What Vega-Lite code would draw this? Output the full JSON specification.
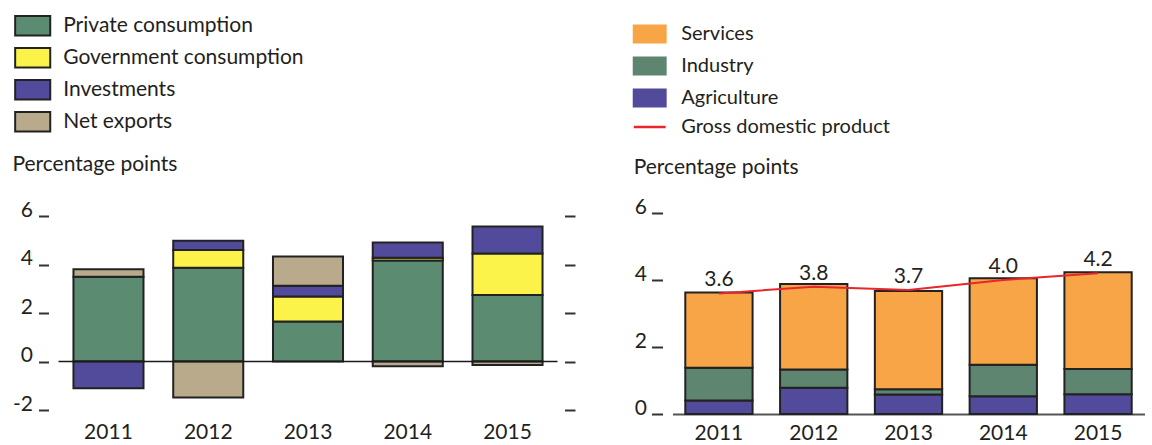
{
  "$schema": "https://vega.github.io/schema/vega-lite/v6.json",
  "background": "white",
  "padding": {"left": 11.5, "top": 14, "right": 0, "bottom": 0},
  "bounds": "flush",
  "spacing": 115,
  "config": {"view": {"stroke": null}, "font": "Lato"},
  "datasets": {
    "demand": [
      {"year": "2011", "component": "Private consumption", "value": 3.50},
      {"year": "2011", "component": "Investments", "value": -1.10},
      {"year": "2011", "component": "Net exports", "value": 0.30},
      {"year": "2012", "component": "Private consumption", "value": 3.87},
      {"year": "2012", "component": "Government consumption", "value": 0.73},
      {"year": "2012", "component": "Investments", "value": 0.38},
      {"year": "2012", "component": "Net exports", "value": -1.48},
      {"year": "2013", "component": "Private consumption", "value": 1.65},
      {"year": "2013", "component": "Government consumption", "value": 1.03},
      {"year": "2013", "component": "Investments", "value": 0.44},
      {"year": "2013", "component": "Net exports", "value": 1.21},
      {"year": "2014", "component": "Private consumption", "value": 4.17},
      {"year": "2014", "component": "Government consumption", "value": 0.11},
      {"year": "2014", "component": "Investments", "value": 0.63},
      {"year": "2014", "component": "Net exports", "value": -0.20},
      {"year": "2015", "component": "Private consumption", "value": 2.74},
      {"year": "2015", "component": "Government consumption", "value": 1.71},
      {"year": "2015", "component": "Investments", "value": 1.12},
      {"year": "2015", "component": "Net exports", "value": -0.14}
    ],
    "supply": [
      {"year": "2011", "sector": "Agriculture", "value": 0.40},
      {"year": "2011", "sector": "Industry", "value": 0.98},
      {"year": "2011", "sector": "Services", "value": 2.25},
      {"year": "2012", "sector": "Agriculture", "value": 0.78},
      {"year": "2012", "sector": "Industry", "value": 0.55},
      {"year": "2012", "sector": "Services", "value": 2.55},
      {"year": "2013", "sector": "Agriculture", "value": 0.58},
      {"year": "2013", "sector": "Industry", "value": 0.16},
      {"year": "2013", "sector": "Services", "value": 2.93},
      {"year": "2014", "sector": "Agriculture", "value": 0.53},
      {"year": "2014", "sector": "Industry", "value": 0.94},
      {"year": "2014", "sector": "Services", "value": 2.58},
      {"year": "2015", "sector": "Agriculture", "value": 0.59},
      {"year": "2015", "sector": "Industry", "value": 0.75},
      {"year": "2015", "sector": "Services", "value": 2.89}
    ],
    "gdp": [
      {"year": "2011", "gdp": 3.6},
      {"year": "2012", "gdp": 3.8},
      {"year": "2013", "gdp": 3.7},
      {"year": "2014", "gdp": 4.0},
      {"year": "2015", "gdp": 4.2}
    ]
  },
  "hconcat": [
    {
      "width": 499,
      "height": 197,
      "layer": [
        {
          "data": {"name": "demand"},
          "transform": [
            {"calculate": "indexof(['Private consumption','Government consumption','Investments','Net exports'], datum.component)", "as": "rank"}
          ],
          "mark": {"type": "bar", "stroke": "#222222", "strokeWidth": 2},
          "encoding": {
            "x": {
              "field": "year", "type": "nominal",
              "scale": {"paddingInner": 0.298, "paddingOuter": 0.15},
              "axis": {"title": null, "labelAngle": 0, "ticks": false, "domain": false, "labelFontSize": 21, "labelPadding": 11, "labelColor": "#231f20"}
            },
            "y": {
              "field": "value", "type": "quantitative", "stack": "zero",
              "scale": {"domain": [-2, 6.125], "nice": false, "zero": false},
              "axis": {
                "orient": "left", "values": [-2, 0, 2, 4, 6], "grid": false, "domain": false,
                "offset": 10, "tickSize": 10, "tickWidth": 2, "tickColor": "#333",
                "labelExpr": "replace(datum.label, '\u2212', '-')",
                "labelFontSize": 21, "labelPadding": 6, "labelBaseline": "alphabetic", "labelColor": "#231f20",
                "title": "Percentage points", "titleAngle": 0, "titleAlign": "left", "titleBaseline": "middle",
                "titleX": -36.6, "titleY": -49, "titleFontSize": 21, "titleFontWeight": "normal", "titleColor": "#231f20"
              }
            },
            "color": {
              "field": "component", "type": "nominal",
              "scale": {
                "domain": ["Private consumption", "Government consumption", "Investments", "Net exports"],
                "range": ["#5b8b71", "#fcf34a", "#524a9b", "#b9aa8c"]
              },
              "legend": {
                "title": null, "orient": "none", "legendX": -37.3, "legendY": -198.7, "padding": 0,
                "symbolType": "M-1.67,-0.93L1.67,-0.93L1.67,0.93L-1.67,0.93Z", "symbolSize": 441,
                "symbolStrokeColor": "#222222", "symbolStrokeWidth": 2,
                "labelFontSize": 21, "labelOffset": 19, "rowPadding": 3, "labelColor": "#231f20", "labelLimit": 0
              }
            },
            "order": {"field": "rank", "type": "quantitative"}
          }
        },
        {
          "data": {"values": [{}]},
          "mark": {"type": "rule", "color": "#1a1a1a", "strokeWidth": 1.5},
          "encoding": {
            "y": {
              "datum": 0, "type": "quantitative",
              "axis": {"orient": "right", "values": [-2, 0, 2, 4, 6], "labels": false, "grid": false, "domain": false, "title": null,
                "offset": 7, "tickSize": 10.5, "tickWidth": 2, "tickColor": "#333"}
            }
          }
        }
      ],
      "resolve": {"axis": {"y": "independent"}}
    },
    {
      "width": 472,
      "height": 201,
      "layer": [
        {
          "data": {"name": "supply"},
          "mark": {"type": "bar", "stroke": "#222222", "strokeWidth": 2},
          "encoding": {
            "x": {
              "field": "year", "type": "nominal",
              "scale": {"paddingInner": 0.29, "paddingOuter": 0.135},
              "axis": {"title": null, "labelAngle": 0, "ticks": false, "domain": true, "domainColor": "#555", "domainWidth": 2,
                "labelFontSize": 21, "labelPadding": 8, "labelColor": "#231f20"}
            },
            "y": {
              "field": "value", "type": "quantitative", "stack": "zero",
              "scale": {"domain": [0, 6], "nice": false},
              "axis": {
                "values": [0, 2, 4, 6], "grid": false, "domain": false,
                "offset": 10, "tickSize": 11, "tickWidth": 2, "tickColor": "#333",
                "labelFontSize": 21, "labelPadding": 5, "labelBaseline": "alphabetic", "labelColor": "#231f20",
                "title": "Percentage points", "titleAngle": 0, "titleAlign": "left", "titleBaseline": "middle",
                "titleX": -29.3, "titleY": -46, "titleFontSize": 21, "titleFontWeight": "normal", "titleColor": "#231f20"
              }
            },
            "color": {
              "field": "sector", "type": "nominal",
              "scale": {
                "domain": ["Services", "Industry", "Agriculture", "Gross domestic product"],
                "range": ["#f7a546", "#5e8570", "#524a9b", "#e8262b"]
              },
              "legend": {
                "title": null, "orient": "none", "legendX": -32.8, "legendY": -189, "padding": 0,
                "symbolType": "M-1.68,-0.9L1.68,-0.9L1.68,0.9L-1.68,0.9Z", "symbolSize": 361,
                "symbolStrokeColor": "#222222", "symbolStrokeWidth": 2,
                "labelFontSize": 20, "labelOffset": 21.5, "rowPadding": 6, "labelColor": "#231f20", "labelLimit": 0,
                "encode": {
                  "symbols": {
                    "update": {
                      "shape": {"signal": "datum.value === 'Gross domestic product' ? 'M-1.68,0L1.68,0' : 'M-1.68,-0.9L1.68,-0.9L1.68,0.9L-1.68,0.9Z'"},
                      "stroke": {"signal": "datum.value === 'Gross domestic product' ? '#e8262b' : '#222222'"},
                      "strokeWidth": {"signal": "datum.value === 'Gross domestic product' ? 2.5 : 2"}
                    }
                  }
                }
              }
            },
            "order": {"field": "sector", "type": "nominal", "sort": "ascending"}
          }
        },
        {
          "data": {"name": "gdp"},
          "mark": {"type": "line", "strokeWidth": 2},
          "encoding": {
            "x": {"field": "year", "type": "nominal"},
            "y": {"field": "gdp", "type": "quantitative"},
            "color": {"datum": "Gross domestic product"}
          }
        },
        {
          "data": {"name": "gdp"},
          "mark": {"type": "text", "dy": -13, "fontSize": 21, "color": "#231f20", "baseline": "middle"},
          "encoding": {
            "x": {"field": "year", "type": "nominal"},
            "y": {"field": "gdp", "type": "quantitative"},
            "text": {"field": "gdp", "type": "quantitative", "format": ".1f"}
          }
        }
      ]
    }
  ],
  "resolve": {"scale": {"color": "independent"}, "legend": {"color": "independent"}}
}
